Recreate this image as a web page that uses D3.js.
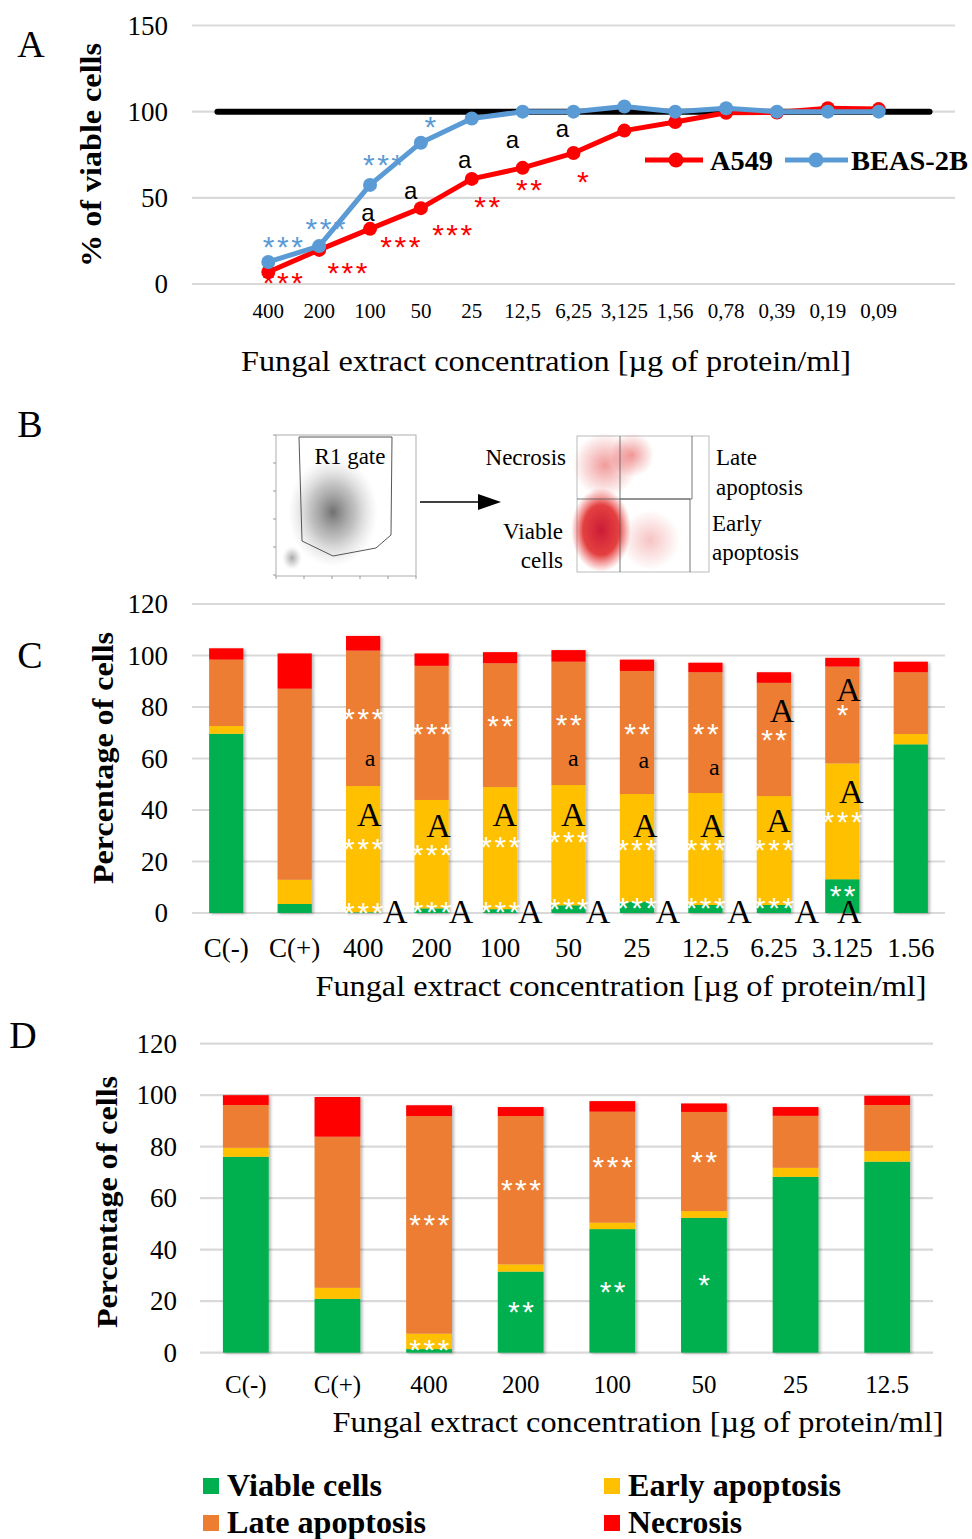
<!DOCTYPE html>
<html><head><meta charset="utf-8">
<script src="https://cdnjs.cloudflare.com/ajax/libs/d3/7.8.5/d3.min.js"></script>
<style>body{margin:0;background:#fff}svg{display:block}</style>
</head><body>
<svg id="c" width="972" height="1539"></svg>
<script>
// ---------------- DATA ----------------
// Panel A
const concA = ["400","200","100","50","25","12,5","6,25","3,125","1,56","0,78","0,39","0,19","0,09"];
const a549 = [7, 19.8, 32, 44, 61, 67.4, 76, 89, 94, 99.4, 99.5, 102, 101.5];
const beas2b = [12.8, 22, 57.5, 82, 96, 100, 100, 103, 100, 102, 100, 100, 100];
const controlLevel = 100;
const yTicksA = [0, 50, 100, 150];
// annotations: [category, value(visual centre), text, x-shift in steps]
const annBlueA = [["400",25.6,"***",0.28],["200",36,"***",0.12],["100",73.3,"***",0.25],["50",95.3,"*",0.18]];
const annRedA = [["400",4.7,"***",0.28],["200",10.5,"***",0.55],["100",25.6,"***",0.59],["50",32.6,"***",0.61],["25",48.8,"**",0.3],["12,5",58.7,"**",0.12],["6,25",63.4,"*",0.18]];
const annLetterA = [["100",40.1,"a",-0.04],["50",52.9,"a",-0.2],["25",70.9,"a",-0.14],["12,5",82,"a",-0.2],["6,25",88.4,"a",-0.22]];

// Panel C
const catsC = ["C(-)","C(+)","400","200","100","50","25","12.5","6.25","3.125","1.56"];
const viableC = [69.6, 3.5, 0.3, 1.8, 1.5, 3.0, 4.4, 3.1, 3.1, 13.1, 65.5];
const earlyC  = [3.0, 9.4, 49.0, 42.1, 47.4, 46.7, 41.8, 43.5, 42.3, 45.0, 4.0];
const lateC   = [25.8, 74.2, 52.6, 52.1, 48.1, 47.9, 47.8, 46.9, 44.0, 37.6, 24.0];
const necroC  = [4.4, 13.7, 5.7, 4.8, 4.3, 4.5, 4.4, 3.7, 4.1, 3.4, 4.1];
const yTicksC = [0, 20, 40, 60, 80, 100, 120];
const annC = [
 ["400",78,"***",0],["400",59.4,"a",0.1],["400",38.1,"A",0.09],["400",27.6,"***",0],["400",2.7,"***",0],["400",0.4,"A",0.47],
 ["200",72.2,"***",0],["200",33.8,"A",0.1],["200",25.2,"***",0],["200",3.1,"***",0],["200",0.4,"A",0.43],
 ["100",75.3,"**",0],["100",38.1,"A",0.07],["100",28.3,"***",0],["100",3.1,"***",0],["100",0.4,"A",0.44],
 ["50",75.7,"**",0],["50",59.4,"a",0.07],["50",38.1,"A",0.07],["50",30.3,"***",0],["50",4.2,"***",0],["50",0.4,"A",0.43],
 ["25",72.2,"**",0],["25",58.6,"a",0.1],["25",33.8,"A",0.12],["25",27.2,"***",0],["25",4.7,"***",0],["25",0.4,"A",0.45],
 ["12.5",72.2,"**",0],["12.5",55.9,"a",0.13],["12.5",33.8,"A",0.1],["12.5",27.2,"***",0],["12.5",4.7,"***",0],["12.5",0.4,"A",0.5],
 ["6.25",78.4,"A",0.12],["6.25",69.9,"**",0],["6.25",35.7,"A",0.07],["6.25",27.2,"***",0],["6.25",4.7,"***",0],["6.25",0.4,"A",0.48],
 ["3.125",86.6,"A",0.09],["3.125",79.6,"*",0],["3.125",47.0,"A",0.13],["3.125",38.1,"***",0],["3.125",9.3,"**",0],["3.125",0.4,"A",0.1]
];

// Panel D
const catsD = ["C(-)","C(+)","400","200","100","50","25","12.5"];
const viableD = [76.1, 20.9, 1.4, 31.5, 48.0, 52.4, 68.3, 74.2];
const earlyD  = [3.5, 4.3, 6.0, 2.8, 2.5, 2.6, 3.5, 4.1];
const lateD   = [16.6, 58.7, 84.5, 57.6, 43.1, 38.5, 20.2, 17.9];
const necroD  = [3.8, 15.4, 4.2, 3.5, 4.1, 3.3, 3.4, 3.6];
const yTicksD = [0, 20, 40, 60, 80, 100, 120];
const annD = [["400",52.3,"***",0],["400",3.8,"***",0],["200",65.9,"***",0],["200",18.5,"**",0],
              ["100",74.8,"***",0],["100",26.3,"**",0],["50",76.8,"**",0],["50",29,"*",0]];

const seriesNames = ["Viable cells","Early apoptosis","Late apoptosis","Necrosis"];
const xTitle = "Fungal extract concentration [µg of protein/ml]";

// ---------------- STYLE ----------------
const COLORS = ["#00b050","#ffc000","#ed7d31","#ff0000"];
const SERIF = "'Liberation Serif','Times New Roman',serif";
const SANS = "'Liberation Sans',Arial,sans-serif";
const GRID = "#d9d9d9";

const svg = d3.select("#c");
const defs = svg.append("defs");
const f = defs.append("filter").attr("id","sh").attr("x","-20%").attr("y","-5%").attr("width","150%").attr("height","115%");
f.append("feDropShadow").attr("dx",2).attr("dy",1).attr("stdDeviation",1.5).attr("flood-color","#000").attr("flood-opacity",0.28);

function txt(g, x, y, s, o={}) {
  const t = g.append("text")
    .attr("transform", `translate(${x},${y})` + (o.sx ? ` scale(${o.sx},1)` : ""))
    .attr("font-family", o.ff || SERIF).attr("font-size", o.fs || 24)
    .attr("font-weight", o.fw || "normal").attr("fill", o.fill || "#000")
    .attr("text-anchor", o.anchor || "middle")
    .text(s);
  if (o.ls != null) t.attr("letter-spacing", o.ls);
  if (o.len) t.attr("textLength", o.len).attr("lengthAdjust","spacingAndGlyphs");
  return t;
}
function rtxt(g, x, y, s, o={}) {
  return g.append("text")
    .attr("transform", `translate(${x},${y}) rotate(-90)`)
    .attr("font-family", SERIF).attr("font-size", o.fs || 30).attr("font-weight", "bold")
    .attr("text-anchor","middle").attr("textLength", o.len).attr("lengthAdjust","spacingAndGlyphs").text(s);
}
function ann(g, x, yc, s, color, sansA) {
  if (s.startsWith("*")) {
    txt(g, x + 1.5, yc + 30*0.57, s, {ff: SANS, fs: 30, fill: color, ls: 2.5});
  } else if (s === "A") {
    txt(g, x, yc + 34*0.33, s, {fs: 34, fill: color});
  } else {
    txt(g, x, yc + 24*0.24, s, {ff: sansA ? SANS : SERIF, fs: 24, fill: color});
  }
}

// panel letters
txt(svg, 31, 57, "A", {fs: 38});
txt(svg, 30, 437, "B", {fs: 38});
txt(svg, 30, 668, "C", {fs: 38});
txt(svg, 23, 1048, "D", {fs: 38});

// ---------------- PANEL A ----------------
(function(){
  const g = svg.append("g");
  const x = d3.scalePoint().domain(concA).range([192, 955]).padding(1.5);
  const y = d3.scaleLinear().domain([0,150]).range([284, 25.5]);
  const step = x.step();
  g.selectAll("line.grid").data(yTicksA).join("line")
    .attr("x1",192).attr("x2",955).attr("y1",d=>y(d)).attr("y2",d=>y(d))
    .attr("stroke",GRID).attr("stroke-width",2.2);
  yTicksA.forEach(t => txt(g, 168, y(t)+9, t, {fs: 27, anchor: "end"}));
  concA.forEach(c => txt(g, x(c), 318, c, {fs: 21}));
  txt(g, 546, 371, xTitle, {fs: 29, len: 610});
  rtxt(g, 101, 155, "% of viable cells", {fs: 29, len: 224});

  g.append("line").attr("x1", x(concA[0]) - step).attr("x2", x(concA[concA.length-1]) + step)
    .attr("y1", y(controlLevel)).attr("y2", y(controlLevel))
    .attr("stroke","#000").attr("stroke-width",6).attr("stroke-linecap","round");
  const line = d3.line().x((d,i)=>x(concA[i])).y(d=>y(d));
  [{v: a549, c: "#ff0000"}, {v: beas2b, c: "#5b9bd5"}].forEach(s => {
    g.append("path").datum(s.v).attr("d", line).attr("fill","none")
      .attr("stroke", s.c).attr("stroke-width",5).attr("stroke-linejoin","round");
    g.selectAll(null).data(s.v).join("circle")
      .attr("cx",(d,i)=>x(concA[i])).attr("cy",d=>y(d)).attr("r",7).attr("fill",s.c);
  });
  annBlueA.forEach(a => ann(g, x(a[0]) + a[3]*step, y(a[1]), a[2], "#5b9bd5"));
  annRedA.forEach(a => ann(g, x(a[0]) + a[3]*step, y(a[1]), a[2], "#ff0000"));
  annLetterA.forEach(a => ann(g, x(a[0]) + a[3]*step, y(a[1]), a[2], "#000", true));

  const ly = 160;
  [["A549","#ff0000",645,703,676,710,63],["BEAS-2B","#5b9bd5",785,848,816,851,117]].forEach(l=>{
    g.append("line").attr("x1",l[2]).attr("x2",l[3]).attr("y1",ly).attr("y2",ly).attr("stroke",l[1]).attr("stroke-width",5);
    g.append("circle").attr("cx",l[4]).attr("cy",ly).attr("r",7.5).attr("fill",l[1]);
    txt(g, l[5], ly+10, l[0], {fs: 28, fw: "bold", anchor: "start", len: l[6]});
  });
})();

// ---------------- PANEL B ----------------
(function(){
  const g = svg.append("g");
  const lg = defs.append("radialGradient").attr("id","gk");
  lg.append("stop").attr("offset","0%").attr("stop-color","#333").attr("stop-opacity",0.7);
  lg.append("stop").attr("offset","50%").attr("stop-color","#666").attr("stop-opacity",0.4);
  lg.append("stop").attr("offset","100%").attr("stop-color","#aaa").attr("stop-opacity",0);
  const rg = defs.append("radialGradient").attr("id","gr");
  rg.append("stop").attr("offset","0%").attr("stop-color","#c8102e").attr("stop-opacity",0.95);
  rg.append("stop").attr("offset","60%").attr("stop-color","#dd1111").attr("stop-opacity",0.8);
  rg.append("stop").attr("offset","100%").attr("stop-color","#ee3333").attr("stop-opacity",0);
  const rg2 = defs.append("radialGradient").attr("id","gr2");
  rg2.append("stop").attr("offset","0%").attr("stop-color","#e02020").attr("stop-opacity",0.45);
  rg2.append("stop").attr("offset","100%").attr("stop-color","#e02020").attr("stop-opacity",0);

  g.append("rect").attr("x",276).attr("y",435).attr("width",140).attr("height",141).attr("fill","#fff").attr("stroke","#999").attr("stroke-width",0.8);
  g.append("ellipse").attr("cx",333).attr("cy",512).attr("rx",45).attr("ry",55).attr("fill","url(#gk)");
  g.append("ellipse").attr("cx",292).attr("cy",558).attr("rx",10).attr("ry",12).attr("fill","url(#gk)").attr("opacity",0.6);
  g.append("path").attr("d","M299,437 L392,437 L391,535 L376,548 L333,556 L302,541 Z").attr("fill","none").attr("stroke","#444").attr("stroke-width",0.9);
  txt(g, 350, 464, "R1 gate", {fs: 23});
  for (let i=0;i<6;i++){ g.append("line").attr("x1",276+i*28).attr("x2",276+i*28).attr("y1",576).attr("y2",579).attr("stroke","#999"); 
    g.append("line").attr("x1",273).attr("x2",276).attr("y1",435+i*28).attr("y2",435+i*28).attr("stroke","#999"); }

  g.append("line").attr("x1",420).attr("x2",480).attr("y1",502).attr("y2",502).attr("stroke","#000").attr("stroke-width",1.6);
  g.append("path").attr("d","M478,494 L501,502 L478,510 Z").attr("fill","#000");

  g.append("rect").attr("x",577).attr("y",436).attr("width",132).attr("height",136).attr("fill","#fff").attr("stroke","#aaa").attr("stroke-width",0.8);
  g.append("ellipse").attr("cx",605).attr("cy",465).attr("rx",32).attr("ry",32).attr("fill","url(#gr2)");
  g.append("ellipse").attr("cx",632).attr("cy",455).attr("rx",22).attr("ry",22).attr("fill","url(#gr2)");
  g.append("ellipse").attr("cx",650).attr("cy",540).attr("rx",30).attr("ry",30).attr("fill","url(#gr2)").attr("opacity",0.6);
  g.append("ellipse").attr("cx",601).attr("cy",530).attr("rx",30).attr("ry",42).attr("fill","url(#gr)");
  g.append("path").attr("d","M577,499 L692,499 L692,436 M620,436 L620,572 M620,499 L690,499 L690,572").attr("fill","none").attr("stroke","#555").attr("stroke-width",0.8);
  txt(g, 566, 465, "Necrosis", {fs: 23, anchor: "end"});
  txt(g, 716, 465, "Late", {fs: 23, anchor: "start"});
  txt(g, 716, 495, "apoptosis", {fs: 23, anchor: "start"});
  txt(g, 563, 539, "Viable", {fs: 23, anchor: "end"});
  txt(g, 563, 568, "cells", {fs: 23, anchor: "end"});
  txt(g, 712, 531, "Early", {fs: 23, anchor: "start"});
  txt(g, 712, 560, "apoptosis", {fs: 23, anchor: "start"});
})();

// ---------------- STACKED PANELS ----------------
function stackedPanel(cfg){
  const g = svg.append("g");
  const x = d3.scaleBand().domain(cfg.cats).range([cfg.x0, cfg.x1]).paddingInner(0.5).paddingOuter(0.25);
  const y = d3.scaleLinear().domain([0,120]).range([cfg.y0, cfg.y0 - cfg.h]);
  g.selectAll("line.grid").data(cfg.ticks).join("line")
    .attr("x1",cfg.x0).attr("x2",cfg.x1).attr("y1",d=>y(d)).attr("y2",d=>y(d))
    .attr("stroke",GRID).attr("stroke-width",2.2);
  cfg.ticks.forEach(t => txt(g, cfg.tickX, y(t)+9, t, {fs: 27, anchor: "end"}));
  cfg.cats.forEach(c => txt(g, x(c)+x.bandwidth()/2, cfg.xlabY, c, {fs: cfg.xfs}));
  txt(g, cfg.titleX, cfg.titleY, xTitle, {fs: 29, len: 611});
  rtxt(g, cfg.yTitleX, cfg.yTitleY, "Percentage of cells", {fs: 29, len: 252});

  const rows = cfg.cats.map((c,i)=>({cat:c, v0:cfg.vals[0][i], v1:cfg.vals[1][i], v2:cfg.vals[2][i], v3:cfg.vals[3][i]}));
  const stack = d3.stack().keys(["v0","v1","v2","v3"])(rows);
  const bars = g.append("g").attr("filter","url(#sh)");
  stack.forEach((layer,k)=>{
    bars.selectAll(null).data(layer).join("rect")
      .attr("x",d=>x(d.data.cat)).attr("width",x.bandwidth())
      .attr("y",d=>y(d[1])).attr("height",d=>Math.max(0,y(d[0])-y(d[1])))
      .attr("fill",COLORS[k]);
  });
  cfg.ann.forEach(a=>{
    const xc = x(a[0]) + x.bandwidth()/2 + a[3]*x.step();
    ann(g, xc, y(a[1]), a[2], a[2].startsWith("*") ? "#fff" : "#000");
  });
}
stackedPanel({cats: catsC, vals:[viableC,earlyC,lateC,necroC], ticks: yTicksC, x0:192, x1:945, y0:913, h:309,
  tickX:168, xlabY:957, xfs:27, titleX:621, titleY:996, yTitleX:113, yTitleY:758, ann: annC});
stackedPanel({cats: catsD, vals:[viableD,earlyD,lateD,necroD], ticks: yTicksD, x0:200, x1:933, y0:1352.7, h:309,
  tickX:177, xlabY:1393, xfs:25, titleX:638, titleY:1432, yTitleX:117, yTitleY:1202, ann: annD});

// ---------------- LEGEND ----------------
(function(){
  const g = svg.append("g");
  const pos = [[203,1478],[604,1478],[203,1515],[604,1515]];
  const lens = [155, 213, 199, 114];
  seriesNames.forEach((n,i)=>{
    g.append("rect").attr("x",pos[i][0]).attr("y",pos[i][1]).attr("width",16).attr("height",16).attr("fill",COLORS[i]);
    txt(g, pos[i][0]+24, pos[i][1]+18, n, {fs: 31, fw: "bold", anchor: "start", len: lens[i]});
  });
})();
</script>
</body></html>
